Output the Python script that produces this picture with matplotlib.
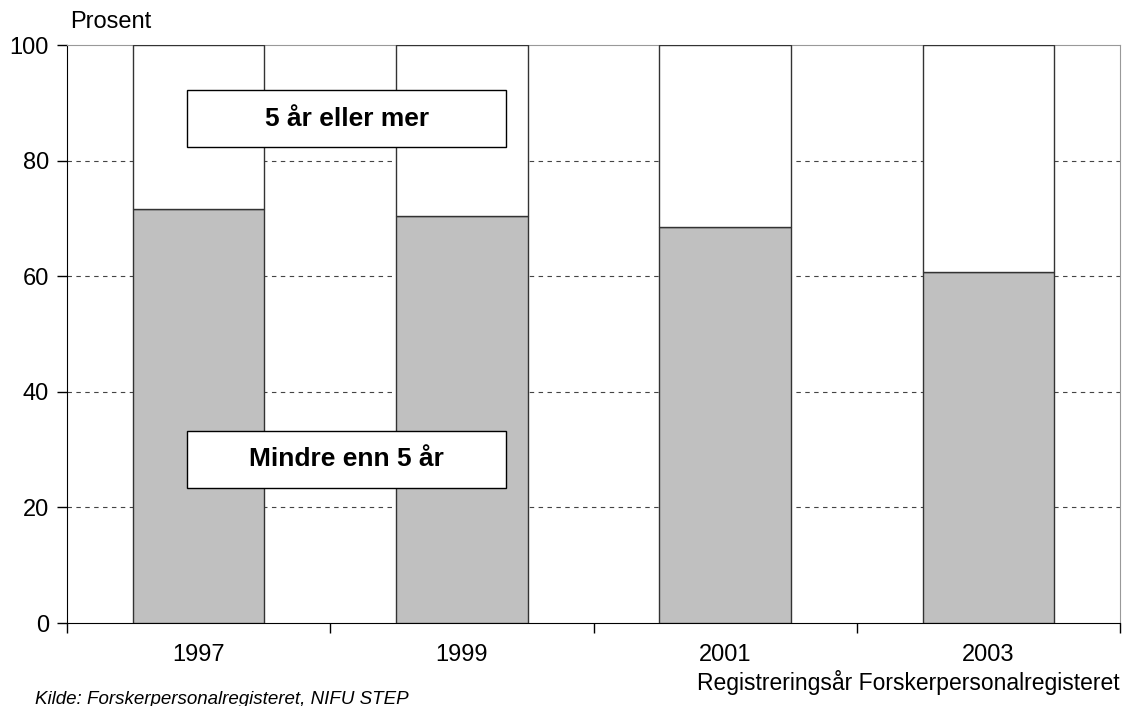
import numpy as np
import matplotlib.pyplot as plt

years = ["1997", "1999", "2001", "2003"]
mindre = [71.7, 70.4, 68.5, 60.8]
mer = [100 - v for v in mindre]

plt.rcParams['font.family'] = ['Liberation Sans', 'DejaVu Sans']

fig = plt.figure(figsize=(11.43, 7.06), dpi=100)
ax = fig.add_axes([67/1143, 83/706, (1120-67)/1143, (623-45)/706])

x = np.arange(len(years))
ax.bar(x, mindre, width=0.5, color='#c0c0c0', edgecolor='#333333', linewidth=1, zorder=3)
ax.bar(x, mer, bottom=mindre, width=0.5, color='white', edgecolor='#333333', linewidth=1, zorder=3)

ax.set_xlim(-0.5, 3.5)
ax.set_ylim(0, 100)
ax.set_yticks([0, 20, 40, 60, 80, 100])
for y in [20, 40, 60, 80]:
    ax.axhline(y, color='#444444', linestyle=(0, (4, 4)), linewidth=0.8, zorder=1)

ax.set_xticks(x)
ax.set_xticklabels(years)
ax.set_xticks(np.arange(-0.5, 4, 1), minor=True)
ax.tick_params(axis='x', which='major', length=0, pad=15, labelsize=17)
ax.tick_params(axis='x', which='minor', length=7, width=1, direction='out')
ax.tick_params(axis='y', length=7, width=1, direction='out', labelsize=17, pad=6)

ax.spines['top'].set_color('#999999')
ax.spines['right'].set_color('#999999')
ax.spines['left'].set_color('black')
ax.spines['bottom'].set_color('black')

# label boxes
ax.add_patch(plt.Rectangle((-0.044, 82.3), 1.212, 9.9, facecolor='white', edgecolor='black', linewidth=1, zorder=5))
ax.text(0.562, 87.25, "5 år eller mer", ha='center', va='center', fontsize=19, fontweight='bold', zorder=6)
ax.add_patch(plt.Rectangle((-0.044, 23.4), 1.212, 9.8, facecolor='white', edgecolor='black', linewidth=1, zorder=5))
ax.text(0.562, 28.3, "Mindre enn 5 år", ha='center', va='center', fontsize=19, fontweight='bold', zorder=6)

fig.text(70/1143, 1 - 22/706, "Prosent", ha='left', va='center', fontsize=17)
fig.text(1120/1143, 1 - 690/706, "Registreringsår Forskerpersonalregisteret", ha='right', va='baseline', fontsize=16.5)
fig.text(35/1143, 1 - 704/706, "Kilde: Forskerpersonalregisteret, NIFU STEP", ha='left', va='baseline', fontsize=13.5, style='italic')

fig.savefig("out.png", dpi=100)
